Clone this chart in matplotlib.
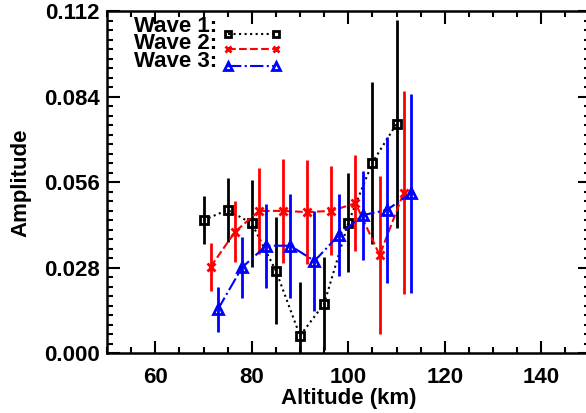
import matplotlib
matplotlib.use("Agg")
import matplotlib.pyplot as plt
from matplotlib.ticker import MultipleLocator, AutoMinorLocator

plt.rcParams['font.family'] = ['Liberation Sans', 'DejaVu Sans']
plt.rcParams['font.weight'] = 'bold'

# Wave 1 - black squares, dotted
alt1 = [70, 75, 80, 85, 90, 95, 100, 105, 110]
amp1 = [0.0437, 0.0470, 0.0426, 0.0271, 0.0058, 0.0163, 0.0428, 0.0625, 0.0752]
err1 = [0.0079, 0.0104, 0.0142, 0.0175, 0.0175, 0.0152, 0.0162, 0.0265, 0.0340]

# Wave 2 - red crosses, dashed
alt2 = [71.5, 76.5, 81.5, 86.5, 91.5, 96.5, 101.5, 106.5, 111.5]
amp2 = [0.0284, 0.0398, 0.0467, 0.0467, 0.0463, 0.0467, 0.0492, 0.0322, 0.0527]
err2 = [0.0078, 0.0100, 0.0140, 0.0170, 0.0170, 0.0146, 0.0158, 0.0258, 0.0333]

# Wave 3 - blue triangles, dash-dot
alt3 = [73, 78, 83, 88, 93, 98, 103, 108, 113]
amp3 = [0.0145, 0.0282, 0.0353, 0.0353, 0.0303, 0.0387, 0.0453, 0.0470, 0.0525]
err3 = [0.0074, 0.0099, 0.0138, 0.0170, 0.0165, 0.0134, 0.0146, 0.0240, 0.0326]

labels = ['Wave 1:', 'Wave 2:', 'Wave 3:']
yticks = [0.000, 0.028, 0.056, 0.084, 0.112]
xticks = [60, 80, 100, 120, 140]

fig = plt.figure(figsize=(5.86, 4.13), dpi=100)
ax = fig.add_axes([0.1826, 0.1441, 0.8234, 0.8281])

series = [
    (alt1, amp1, err1, 'black', 's', ':', 6),
    (alt2, amp2, err2, 'red', 'x', '--', 6),
    (alt3, amp3, err3, 'blue', '^', '-.', 7),
]

# legend drawn by hand: text on the left, short line with two markers on the right
leg_text_y = [0.955, 0.905, 0.853]
leg_line_y = [0.934, 0.890, 0.841]

for i, (x, y, e, c, m, ls, ms) in enumerate(series):
    ax.errorbar(x, y, yerr=e, fmt='none', ecolor=c, elinewidth=2, capsize=0)
    ax.plot(x, y, color=c, linestyle=ls, linewidth=1.5, marker=m,
            markersize=ms, markerfacecolor='none', markeredgecolor=c,
            markeredgewidth=2)
    ax.text(0.228, leg_text_y[i], labels[i], transform=ax.transAxes,
            ha='right', va='center', fontsize=16, fontweight='bold')
    ax.plot([0.251, 0.350], [leg_line_y[i]] * 2, transform=ax.transAxes,
            color=c, linestyle=ls, linewidth=1.5, marker=m, markersize=ms - 1,
            markerfacecolor='none', markeredgecolor=c, markeredgewidth=2)

ax.set_xlim(50, 150)
ax.set_ylim(0, 0.112)
ax.set_xticks(xticks)
ax.set_yticks(yticks)
ax.set_yticklabels(['%.3f' % v for v in yticks])
ax.xaxis.set_minor_locator(MultipleLocator(5))
ax.yaxis.set_minor_locator(AutoMinorLocator(9))
ax.tick_params(which='both', direction='in', top=True, right=True,
               labelsize=16, width=1.5)
ax.tick_params(which='major', length=9)
ax.tick_params(which='minor', length=4.5)
ax.tick_params(axis='x', which='major', pad=10)
ax.tick_params(axis='y', which='major', pad=5)
for lbl in ax.get_xticklabels() + ax.get_yticklabels():
    lbl.set_fontweight('bold')
for s in ax.spines.values():
    s.set_linewidth(1.8)

ax.set_xlabel('Altitude (km)', fontsize=16, fontweight='bold', labelpad=0)
ax.set_ylabel('Amplitude', fontsize=16, fontweight='bold', labelpad=9)

fig.savefig('out.png', dpi=100)
